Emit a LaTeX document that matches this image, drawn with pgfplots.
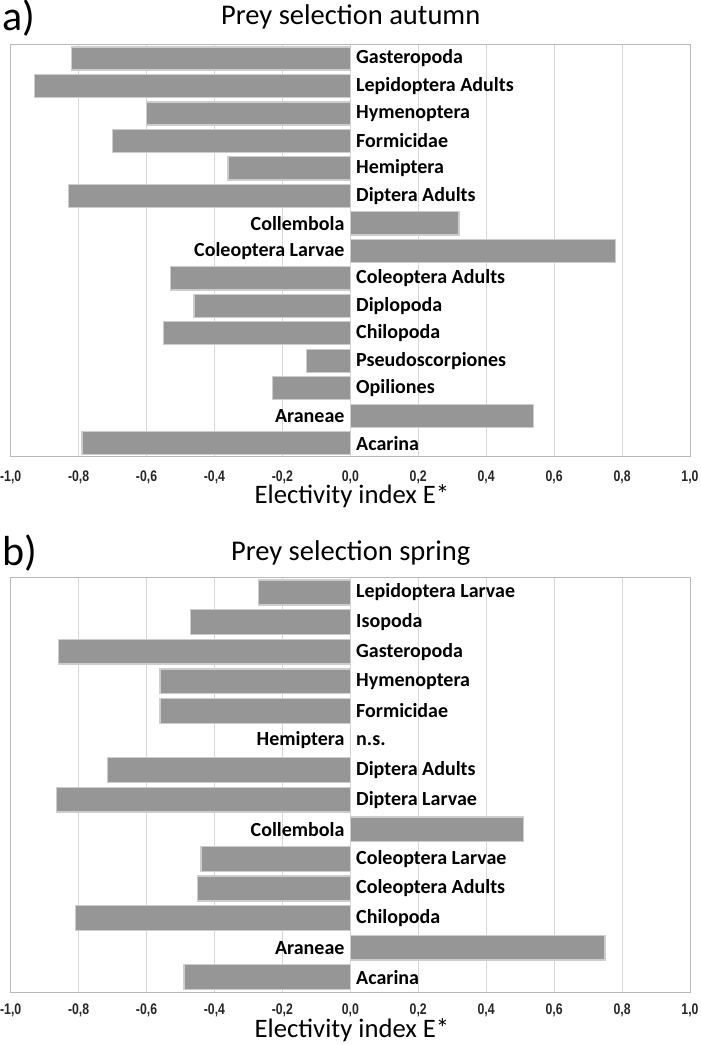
\documentclass[border=0pt]{standalone}
\usepackage{fontspec}
\setmainfont{Carlito}
\newfontfamily\tickfont[FakeStretch=0.8]{Liberation Sans}
\usepackage{pgfplots}
\pgfplotsset{compat=1.18}
\usepackage{pgfplotstable}
\definecolor{barfill}{RGB}{150,150,150}
\definecolor{baredge}{RGB}{205,205,205}
\definecolor{gridc}{RGB}{215,215,215}
\definecolor{framec}{RGB}{185,185,185}

\pgfplotstableread{
idx val
0 -0.82
1 -0.93
2 -0.60
3 -0.70
4 -0.36
5 -0.83
6 0.32
7 0.78
8 -0.53
9 -0.46
10 -0.55
11 -0.13
12 -0.23
13 0.54
14 -0.79
}\autumn

\pgfplotstableread{
idx val
0 -0.27
1 -0.47
2 -0.86
3 -0.56
4 -0.56
5 0.0
6 -0.715
7 -0.865
8 0.51
9 -0.44
10 -0.45
11 -0.81
12 0.75
13 -0.49
}\spring

\pgfplotsset{prey/.style={
  xbar, scale only axis, width=509.5pt,
  xmin=-1, xmax=1, y dir=reverse,
  xtick={-1,-0.8,-0.6,-0.4,-0.2,0,0.2,0.4,0.6,0.8,1},
  xticklabels={{-1,0},{-0,8},{-0,6},{-0,4},{-0,2},{0,0},{0,2},{0,4},{0,6},{0,8},{1,0}},
  xmajorgrids, major grid style={gridc, line width=0.75pt},
  ytick=\empty, major tick length=0pt,
  axis line style={framec, line width=0.75pt},
  bar width=0.84,
  clip=false,
}}
\tikzset{
  labR/.style={anchor=west, xshift=4.2pt, inner sep=0pt, font=\bfseries\fontsize{15}{18}\selectfont},
  labL/.style={anchor=east, xshift=-4.2pt, inner sep=0pt, font=\bfseries\fontsize{15}{18}\selectfont},
  ttl/.style={anchor=base, inner sep=0pt, font=\fontsize{21.4}{25}\selectfont},
  xl/.style={anchor=base, inner sep=0pt, font=\fontsize{20}{24}\selectfont},
  pl/.style={anchor=base west, inner sep=0pt, font=\fontsize{31.5}{36}\selectfont},
}

\begin{document}
\begin{tikzpicture}
\useasboundingbox (0,0) rectangle (525pt,-783.75pt);

% ---------- a) autumn ----------
\node[pl] at (1.5pt,-23.25pt) {a)};
\node[ttl] at (263pt,-18.75pt) {Prey selection autumn};
\begin{axis}[prey, name=top, height=309.2pt,
  at={(8.0pt,-33.5pt)}, anchor=north west,
  ymin=-0.5, ymax=14.5,
  xticklabel style={font=\tickfont\bfseries\fontsize{11.5}{12}\selectfont, text=black!85, inner sep=0pt, anchor=north, yshift=-10pt},
]
\addplot[fill=barfill, draw=baredge, line width=1pt] table[x=val, y=idx] {\autumn};
\node[labR] at (axis cs:0,0) {Gasteropoda};
\node[labR] at (axis cs:0,1) {Lepidoptera Adults};
\node[labR] at (axis cs:0,2) {Hymenoptera};
\node[labR] at (axis cs:0,3) {Formicidae};
\node[labR] at (axis cs:0,4) {Hemiptera};
\node[labR] at (axis cs:0,5) {Diptera Adults};
\node[labL] at (axis cs:0,6) {Collembola};
\node[labL] at (axis cs:0,7) {Coleoptera Larvae};
\node[labR] at (axis cs:0,8) {Coleoptera Adults};
\node[labR] at (axis cs:0,9) {Diplopoda};
\node[labR] at (axis cs:0,10) {Chilopoda};
\node[labR] at (axis cs:0,11) {Pseudoscorpiones};
\node[labR] at (axis cs:0,12) {Opiliones};
\node[labL] at (axis cs:0,13) {Araneae};
\node[labR] at (axis cs:0,14) {Acarina};
\end{axis}
\node[xl] at (264pt,-377.25pt) {Electivity index E*};

% ---------- b) spring ----------
\node[pl] at (1.5pt,-423.75pt) {b)};
\node[ttl] at (263pt,-420pt) {Prey selection spring};
\begin{axis}[prey, name=bot, height=310.7pt,
  at={(8.0pt,-433.3pt)}, anchor=north west,
  ymin=-0.5, ymax=13.5,
  xticklabel style={font=\tickfont\bfseries\fontsize{11.5}{12}\selectfont, text=black!85, inner sep=0pt, anchor=north, yshift=-9pt},
]
\addplot[fill=barfill, draw=baredge, line width=1pt] table[x=val, y=idx] {\spring};
\node[labR] at (axis cs:0,0) {Lepidoptera Larvae};
\node[labR] at (axis cs:0,1) {Isopoda};
\node[labR] at (axis cs:0,2) {Gasteropoda};
\node[labR] at (axis cs:0,3) {Hymenoptera};
\node[labR] at (axis cs:0,4) {Formicidae};
\node[labL] at (axis cs:0,5) {Hemiptera};
\node[labR] at (axis cs:0,5) {n.s.};
\node[labR] at (axis cs:0,6) {Diptera Adults};
\node[labR] at (axis cs:0,7) {Diptera Larvae};
\node[labL] at (axis cs:0,8) {Collembola};
\node[labR] at (axis cs:0,9) {Coleoptera Larvae};
\node[labR] at (axis cs:0,10) {Coleoptera Adults};
\node[labR] at (axis cs:0,11) {Chilopoda};
\node[labL] at (axis cs:0,12) {Araneae};
\node[labR] at (axis cs:0,13) {Acarina};
\end{axis}
\node[xl] at (264pt,-777.75pt) {Electivity index E*};
\end{tikzpicture}
\end{document}
